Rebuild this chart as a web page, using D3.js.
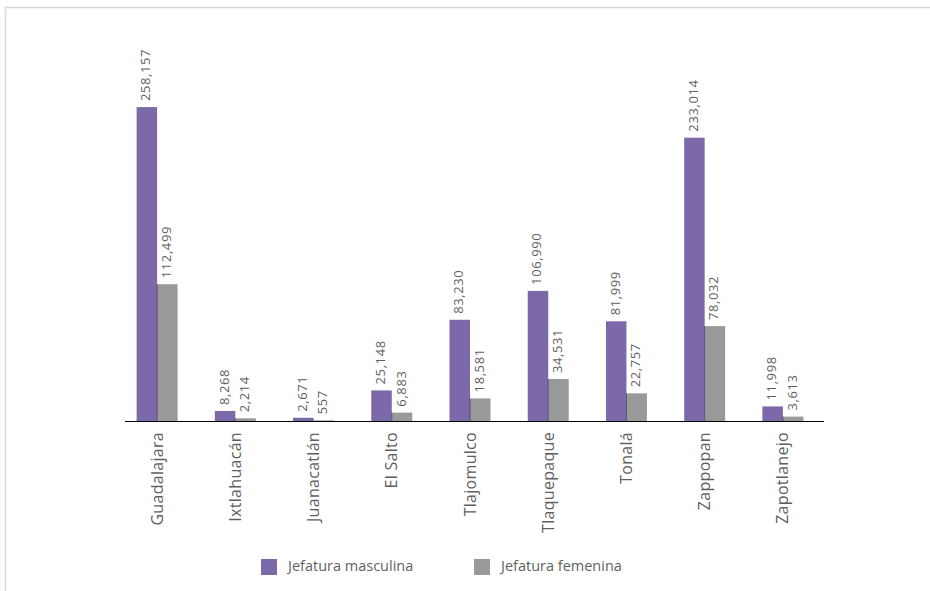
<!DOCTYPE html>
<html lang="es">
<head>
    <meta charset="UTF-8">
    <title>Jefatura de hogar por municipio</title>
    <style>
        body {
            margin: 0;
            background-color: #fff;
            font-family: "Open Sans", Arial, sans-serif;
        }
    </style>
    <script src="https://d3js.org/d3.v7.min.js"></script>
</head>
<body>
    <div id="chart"></div>

    <script>
        const municipios = ["Guadalajara", "Ixtlahuacán", "Juanacatlán", "El Salto", "Tlajomulco",
            "Tlaquepaque", "Tonalá", "Zappopan", "Zapotlanejo"];
        const masculina = [258157, 8268, 2671, 25148, 83230, 106990, 81999, 233014, 11998];
        const femenina = [112499, 2214, 557, 6883, 18581, 34531, 22757, 78032, 3613];
        const series = ["Jefatura masculina", "Jefatura femenina"];
        const colores = ["#7b69aa", "#999999"];

        const width = 930;
        const height = 591;
        const baseY = 421;

        const svg = d3.select("#chart").append("svg")
            .attr("width", width)
            .attr("height", height);

        // light frame around the figure
        svg.append("rect")
            .attr("x", 5.5).attr("y", 7.5)
            .attr("width", width + 10).attr("height", height + 10)
            .attr("fill", "none")
            .attr("stroke", "#d9d9d9")
            .attr("stroke-width", 1.5);

        const x0 = d3.scaleBand()
            .domain(municipios)
            .range([118, 822])
            .paddingInner(0.476)
            .paddingOuter(0.238);

        const x1 = d3.scaleBand()
            .domain(series)
            .range([0, x0.bandwidth()]);

        const y = d3.scaleLinear()
            .domain([0, 300000])
            .range([baseY, baseY - 0.001216 * 300000]);

        const rows = municipios.map((m, i) => ({
            name: m,
            values: [
                { key: series[0], value: masculina[i] },
                { key: series[1], value: femenina[i] }
            ]
        }));

        const groups = svg.append("g")
            .selectAll("g")
            .data(rows)
            .join("g")
            .attr("transform", d => `translate(${x0(d.name)},0)`);

        groups.selectAll("rect")
            .data(d => d.values)
            .join("rect")
            .attr("x", d => x1(d.key))
            .attr("y", d => y(d.value))
            .attr("width", x1.bandwidth())
            .attr("height", d => baseY - y(d.value))
            .attr("fill", (d, i) => colores[i]);

        // thin dark seam between the two bars
        groups.append("line")
            .attr("x1", x1(series[1])).attr("x2", x1(series[1]))
            .attr("y1", (d) => y(d.values[1].value))
            .attr("y2", baseY)
            .attr("stroke", "#4a4060")
            .attr("stroke-width", 0.8);

        // value labels, rotated
        const fmt = d3.format(",");
        groups.selectAll("text.valor")
            .data(d => d.values)
            .join("text")
            .attr("class", "valor")
            .attr("transform", d => `translate(${x1(d.key) + x1.bandwidth() / 2},${y(d.value) - 6}) rotate(-90)`)
            .attr("dominant-baseline", "middle")
            .attr("font-size", 13)
            .attr("letter-spacing", 0.6)
            .attr("fill", "#5f5f5f")
            .text(d => fmt(d.value));

        // baseline axis
        const xAxis = d3.axisBottom(x0).tickSize(0).tickPadding(0);
        const axisG = svg.append("g")
            .attr("transform", `translate(0,${baseY})`)
            .call(xAxis);
        axisG.select(".domain")
            .attr("d", "M125,0.5H824")
            .attr("stroke", "#000")
            .attr("stroke-width", 1.2);
        axisG.selectAll(".tick text")
            .attr("transform", "translate(0,11) rotate(-90)")
            .attr("x", 0).attr("y", 0).attr("dy", "0.35em")
            .attr("text-anchor", "end")
            .attr("font-family", "'Open Sans', Arial, sans-serif")
            .attr("font-size", 16)
            .attr("letter-spacing", 0.3)
            .attr("fill", "#5f5f5f");

        // legend
        const legendX = [261, 474];
        const legend = svg.append("g")
            .selectAll("g")
            .data(series)
            .join("g")
            .attr("transform", (d, i) => `translate(${legendX[i]},559)`);
        legend.append("rect")
            .attr("width", 16).attr("height", 16)
            .attr("fill", (d, i) => colores[i]);
        legend.append("text")
            .attr("x", 27).attr("y", 8)
            .attr("dominant-baseline", "middle")
            .attr("font-size", 14.5)
            .attr("fill", "#5f5f5f")
            .text(d => d);
    </script>
</body>
</html>
